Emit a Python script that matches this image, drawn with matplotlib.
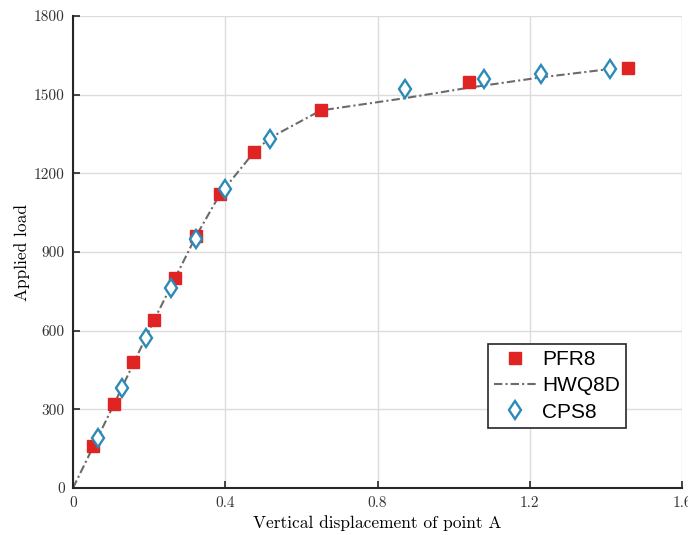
import matplotlib.pyplot as plt

# PFR8 results (red squares)
pfr8_x = [0.0525, 0.108, 0.158, 0.213, 0.268, 0.323, 0.386, 0.475, 0.651, 1.041, 1.458]
pfr8_y = [160, 320, 480, 640, 800, 960, 1120, 1280, 1440, 1550, 1600]

# HWQ8D curve (dash-dot line)
hwq8d_x = [0, 0.108, 0.213, 0.323, 0.386, 0.475, 0.517, 0.651, 0.873, 1.041, 1.229, 1.411]
hwq8d_y = [0, 320, 640, 960, 1120, 1280, 1335, 1440, 1487, 1527, 1566, 1598]

# CPS8 results (blue diamonds)
cps8_x = [0.065, 0.128, 0.193, 0.257, 0.323, 0.399, 0.517, 0.873, 1.079, 1.229, 1.411]
cps8_y = [192, 380, 571, 761, 948, 1140, 1331, 1522, 1560, 1578, 1598]

x_ticks = [0, 0.4, 0.8, 1.2, 1.6]
x_tick_labels = ['0', '0.4', '0.8', '1.2', '1.6']
y_ticks = [0, 300, 600, 900, 1200, 1500, 1800]

serif = 'cmr10'

fig = plt.figure(figsize=(6.88, 5.35), dpi=100)
ax = fig.add_axes([0.1061, 0.0879, 0.8852, 0.8821])

ax.plot(pfr8_x, pfr8_y, linestyle='none', marker='s', markersize=8,
        color='#e02424', label='PFR8', zorder=3)
ax.plot(hwq8d_x, hwq8d_y, linestyle=(0, (4, 1.5, 1, 1.5)), color='#6b6b6b', linewidth=1.5,
        label='HWQ8D', zorder=2)
ax.plot(cps8_x, cps8_y, linestyle='none', marker='d', markersize=9.5,
        markerfacecolor='white', markeredgecolor='#2b8ab8', markeredgewidth=1.7,
        label='CPS8', zorder=4)

ax.set_xlim(0, 1.6)
ax.set_ylim(0, 1800)
ax.set_xticks(x_ticks)
ax.set_xticklabels(x_tick_labels)
ax.set_yticks(y_ticks)
for lbl in ax.get_xticklabels() + ax.get_yticklabels():
    lbl.set_fontfamily(serif)
    lbl.set_fontsize(11)
    lbl.set_color('#333333')

ax.tick_params(direction='in', length=5, width=1.2, color='#262626', pad=6)
ax.grid(True, color='#dcdcdc', linewidth=1)
ax.set_axisbelow(True)
for s in ['top', 'right']:
    ax.spines[s].set_visible(False)
for s in ['left', 'bottom']:
    ax.spines[s].set_linewidth(1.5)
    ax.spines[s].set_color('#262626')

ax.set_xlabel('Vertical displacement of point A', fontfamily=serif, fontsize=12.5, labelpad=4)
ax.set_ylabel('Applied load', fontfamily=serif, fontsize=12.5, labelpad=3)

leg = ax.legend(loc='lower left', bbox_to_anchor=(0.681, 0.127),
                prop={'family': 'Liberation Sans', 'size': 15},
                fancybox=False, framealpha=1, edgecolor='#262626',
                handlelength=2.0, handletextpad=0.3, borderpad=0.3, labelspacing=0.35,
                borderaxespad=0)
leg.get_frame().set_linewidth(1.2)

fig.savefig('out.png', dpi=100)
